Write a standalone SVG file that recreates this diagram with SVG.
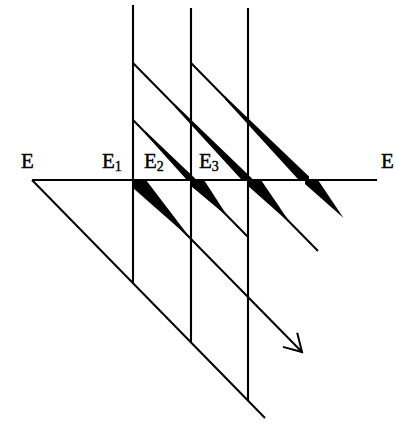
<svg xmlns="http://www.w3.org/2000/svg" width="395" height="428" viewBox="0 0 395 428">
<style>
.ln{stroke:#000;stroke-width:2.1;fill:none;stroke-linecap:butt}
.dg{stroke:#000;stroke-width:2;fill:none}
.wd{fill:#000;stroke:none}
.lb{font-family:"Liberation Serif","Times New Roman",serif;font-size:21px;fill:#000;stroke:#000;stroke-width:0.4}
.sb{font-size:14px}
</style>
<defs>
<marker id="open" markerUnits="userSpaceOnUse" markerWidth="24" markerHeight="24" viewBox="-20 -12 24 24" refX="0" refY="0" orient="auto">
<path d="M-17,-10 L0,0 L-17,10" fill="none" stroke="#000" stroke-width="2" stroke-linejoin="miter"/>
</marker>
</defs>
<rect width="395" height="428" fill="#fff"/>
<g id="connectors">
<line class="ln" x1="133" y1="5" x2="133" y2="283"/>
<line class="ln" x1="191" y1="8" x2="191" y2="342"/>
<line class="ln" x1="248" y1="8" x2="248" y2="401"/>
<line class="ln" x1="32" y1="180" x2="377" y2="180"/>
<line class="dg" x1="32" y1="180" x2="265" y2="418"/>
<line class="dg" x1="133" y1="63" x2="318" y2="251"/>
<line class="dg" x1="191" y1="63" x2="306" y2="180"/>
<line class="dg" x1="133" y1="120" x2="248" y2="237"/>
<line class="dg" x1="133" y1="180" x2="302" y2="352" marker-end="url(#open)"/>
</g>
<g id="wedges">
<polygon class="wd" points="175,104.3 253.6,180 241.8,180 175,107.3"/>
<polygon class="wd" points="225,96.2 309,176.6 309,180 298.8,180 225,99.2"/>
<polygon class="wd" points="145,130.8 196.7,180 186.9,180 145,133.6"/>
<polygon class="wd" points="133,180 146,180 191,239 133,188"/>
<polygon class="wd" points="191,180 204,180 228,217 191,186"/>
<polygon class="wd" points="247,180 261,180 291,224 247,185"/>
<polygon class="wd" points="305,180 318,180 343.5,218 305,184"/>
</g>
<g id="label-E"><text class="lb" x="21" y="168">E</text></g>
<g id="label-E1"><text class="lb" x="102" y="168">E<tspan class="sb" dy="3">1</tspan></text></g>
<g id="label-E2"><text class="lb" x="144" y="168">E<tspan class="sb" dy="3">2</tspan></text></g>
<g id="label-E3"><text class="lb" x="199" y="168">E<tspan class="sb" dy="3">3</tspan></text></g>
<g id="label-E-right"><text class="lb" x="381" y="168">E</text></g>
</svg>
